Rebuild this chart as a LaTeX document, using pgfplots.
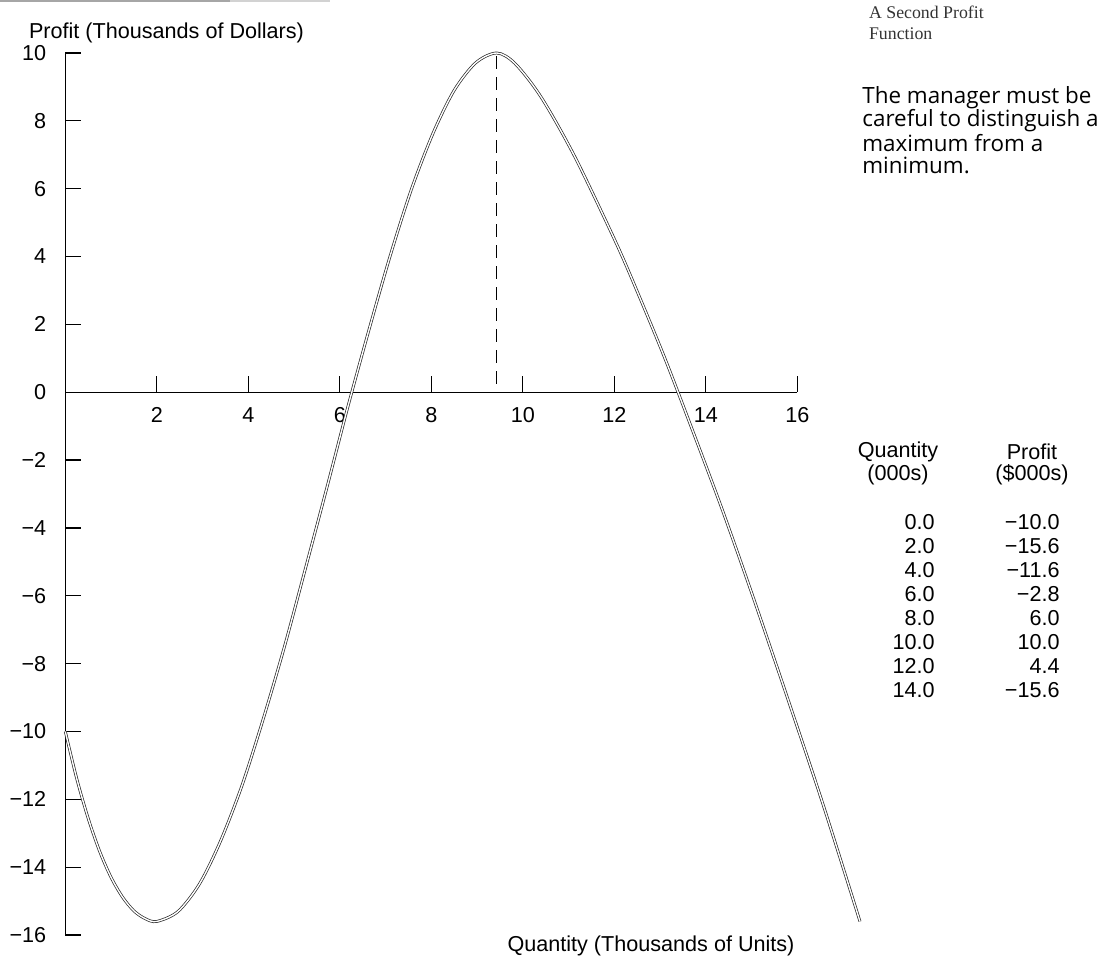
\documentclass[border=0pt]{standalone}
\usepackage{pgfplots}
\pgfplotsset{compat=1.18}
\usepackage{fontspec}
\setmainfont{Liberation Sans}
\newfontfamily\titlefont{Liberation Serif}
\newfontfamily\bodyfont{Open Sans}

\begin{document}
\begin{tikzpicture}
\useasboundingbox (0pt,0pt) rectangle (551pt,-481pt);
\draw[gray!70, line width=1pt] (0pt,-0.6pt) -- (115pt,-0.6pt);
\draw[gray!35, line width=0.8pt] (115pt,-0.6pt) -- (165pt,-0.6pt);
\begin{axis}[
  at={(32.65pt,-467.5pt)}, anchor=south west,
  scale only axis, width=366pt, height=441pt,
  xmin=0,xmax=16,ymin=-16,ymax=10,
  axis lines=middle, axis line style={-, line width=0.7pt},
  enlargelimits=false, clip=false,
  hide obscured y ticks=false, hide obscured x ticks=false,
  tick align=inside, major tick length=8pt, tick style={line width=0.6pt, black},
  xtick={2,4,...,16}, ytick={-16,-14,...,10},
  yticklabels={−16,−14,−12,−10,−8,−6,−4,−2,0,2,4,6,8,10},
  xticklabels={2,4,6,8,10,12,14,16},
  ticklabel style={font=\fontsize{10.8}{12}\selectfont},
  xticklabel style={anchor=base, yshift=-15pt},
  yticklabel style={xshift=-6pt},
]
\addplot[smooth, draw=black!85, line width=0.35pt, double=white, double distance=0.7pt] coordinates {
(0,-10) (0.25,-11.39) (0.5,-12.56) (0.75,-13.53) (1,-14.3) (1.25,-14.88) (1.5,-15.29) (1.75,-15.52) (2,-15.6)
(2.46,-15.31) (2.93,-14.5) (3.39,-13.24) (3.86,-11.6) (4.32,-9.66) (4.79,-7.5) (5.25,-5.19) (5.72,-2.8)
(6.18,-0.41) (6.65,1.9) (7.11,4.06) (7.57,6.0) (8.04,7.64) (8.50,8.9) (8.97,9.71) (9.43,10)
(9.83,9.69) (10.40,8.7) (11.13,6.96) (12.04,4.4) (12.56,2.78) (13.12,0.95) (13.72,-1.16) (14.37,-3.5)
(15.05,-6.1) (15.78,-8.99) (16.56,-12.14) (17.37,-15.6)
};
\addplot[black, line width=0.6pt, dash pattern=on 6.5pt off 4pt] coordinates {(9.43,9.9) (9.43,0)};
\end{axis}
\node[anchor=west, font=\fontsize{10.8}{12}\selectfont] at (11pt,-16.5pt) {Profit (Thousands of Dollars)};
\node[anchor=center, font=\fontsize{10.8}{12}\selectfont] at (325.5pt,-473pt) {Quantity (Thousands of Units)};
\node[anchor=west, font=\titlefont\fontsize{8.9}{11}\selectfont, text=black!80] at (431pt,-6pt) {A Second Profit};
\node[anchor=west, font=\titlefont\fontsize{8.9}{11}\selectfont, text=black!80] at (431pt,-17pt) {Function};
\begin{scope}[every node/.style={anchor=west, font=\bodyfont\fontsize{11.2}{12}\selectfont, inner sep=0pt}]
\node at (431pt,-49pt) {The manager must be};
\node at (431pt,-60.5pt) {careful to distinguish a};
\node at (431pt,-71.5pt) {maximum from a};
\node at (431pt,-82.5pt) {minimum.};
\end{scope}
\begin{scope}[every node/.style={font=\fontsize{10.8}{12}\selectfont, inner sep=0pt}]
\node at (449pt,-226pt) {Quantity};
\node at (449pt,-237.5pt) {(000s)};
\node at (516pt,-226pt) {Profit};
\node at (516pt,-237.5pt) {(\$000s)};
\foreach \q/\p [count=\i from 0] in {0.0/−10.0, 2.0/−15.6, 4.0/−11.6, 6.0/−2.8, 8.0/6.0, 10.0/10.0, 12.0/4.4, 14.0/−15.6} {
  \node[anchor=east] at (467.5pt,{-261pt-12pt*\i}) {\q};
  \node[anchor=east] at (530pt,{-261pt-12pt*\i}) {\p};
}
\end{scope}
\end{tikzpicture}
\end{document}
